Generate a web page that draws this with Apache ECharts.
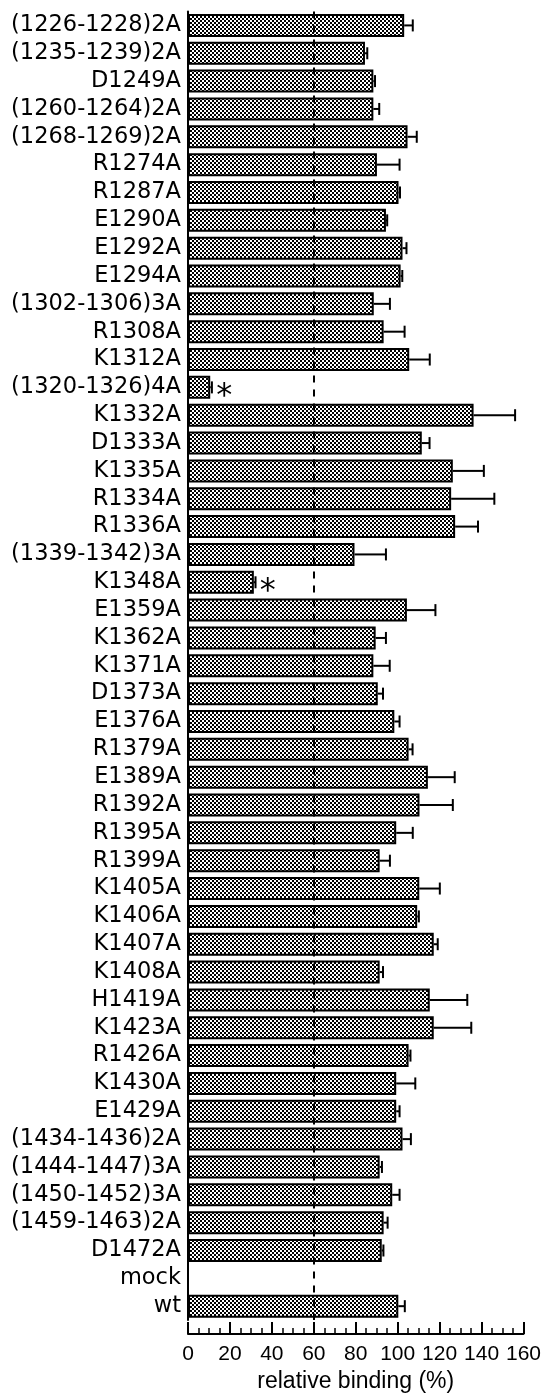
<!DOCTYPE html>
<html>
<head>
<meta charset="utf-8">
<script src="https://cdn.jsdelivr.net/npm/echarts@6/dist/echarts.min.js"></script>
<style>
html,body{margin:0;padding:0;background:#fff;}
#chart{width:544px;height:1398px;}
</style>
</head>
<body>
<div id="chart"></div>
<script>
const categories = ['(1226-1228)2A','(1235-1239)2A','D1249A','(1260-1264)2A','(1268-1269)2A','R1274A','R1287A','E1290A','E1292A','E1294A','(1302-1306)3A','R1308A','K1312A','(1320-1326)4A','K1332A','D1333A','K1335A','R1334A','R1336A','(1339-1342)3A','K1348A','E1359A','K1362A','K1371A','D1373A','E1376A','R1379A','E1389A','R1392A','R1395A','R1399A','K1405A','K1406A','K1407A','K1408A','H1419A','K1423A','R1426A','K1430A','E1429A','(1434-1436)2A','(1444-1447)3A','(1450-1452)3A','(1459-1463)2A','D1472A','mock','wt'];
const binding = [103.1,84.4,88.4,88.4,104.7,90.1,100.4,94.4,102.3,101.4,88.6,93.3,105.5,10.6,136.2,111.5,126.3,125.5,127.4,79.4,31.4,104.4,89.5,88.4,90.5,98.4,105.2,114.4,110.4,99.3,91.4,110.3,109.3,117.2,91.4,115.3,117.2,105.2,99.3,99.3,102.3,91.4,97.4,93.3,92.4,0,100.3];
const sem = [4.1,1.1,0.8,2.8,4.4,10.8,0.7,0.6,1.9,0.8,7.7,10.0,9.8,0.8,19.8,3.7,14.8,20.6,10.9,15.0,0.8,13.6,4.9,7.8,2.5,2.5,1.9,12.8,15.9,7.9,4.9,9.8,0.8,1.9,1.6,17.9,17.9,0.9,9.1,1.6,4.0,1.1,3.5,1.9,0.8,0,3.1];
const significance = ['','','','','','','','','','','','','','*','','','','','','','*','','','','','','','','','','','','','','','','','','','','','','','','','',''];
const referenceLine = 60;
const xMin = 0, xMax = 160, xStep = 20;

function checker() {
  const c = document.createElement('canvas');
  c.width = 4; c.height = 4;
  const g = c.getContext('2d');
  g.fillStyle = '#fff'; g.fillRect(0,0,4,4);
  g.fillStyle = '#000'; g.fillRect(0,0,2,2); g.fillRect(2,2,2,2);
  return c;
}

const chart = echarts.init(document.getElementById('chart'), null, {renderer:'canvas'});
const errData = binding.map((v,i)=>[v, v+sem[i], i]);

chart.setOption({
  animation:false,
  grid:{left:188, right:19, top:11.5, bottom:68},
  xAxis:{
    type:'value', min:xMin, max:xMax, interval:xStep, offset:14,
    name:'relative binding (%)', nameLocation:'middle', nameGap:34,
    nameTextStyle:{color:'#000', fontSize:23, fontFamily:'Liberation Sans'},
    axisLine:{show:true, lineStyle:{color:'#000', width:2}},
    axisTick:{show:true, inside:true, length:12, lineStyle:{color:'#000', width:2}},
    minorTick:{show:true, splitNumber:4, length:6, lineStyle:{color:'#000', width:1.5}},
    splitLine:{show:false},
    axisLabel:{color:'#000', fontSize:21, fontFamily:'Liberation Sans', margin:10}
  },
  yAxis:{
    type:'category', data:categories, inverse:true,
    axisLine:{show:true, lineStyle:{color:'#000', width:2}},
    axisTick:{show:false},
    axisLabel:{interval:0, color:'#000', fontSize:22.5, fontFamily:'DejaVu Sans', margin:7}
  },
  series:[
    {
      type:'bar', data:binding, barWidth:23,
      itemStyle:{color:{image:checker(), repeat:'repeat'}, borderColor:'#000', borderWidth:2},
      label:{show:true, position:'right', distance:7, offset:[-1,9],
        formatter:p=>significance[p.dataIndex], color:'#000', fontSize:32, fontFamily:'DejaVu Sans'},
      markLine:{silent:true, symbol:'none', label:{show:false},
        lineStyle:{color:'#000', type:[7,7], width:2},
        data:[{xAxis:referenceLine}], z:10},
      z:2
    },
    {
      type:'custom', data:errData, z:3,
      renderItem:function(params, api){
        const v = api.value(0), e = api.value(1), idx = api.value(2);
        if (e - v <= 0) return null;
        const p0 = api.coord([v, idx]);
        const p1 = api.coord([e, idx]);
        const h = 12;
        return {type:'group', children:[
          {type:'line', shape:{x1:p0[0], y1:p0[1], x2:p1[0], y2:p1[1]}, style:{stroke:'#000', lineWidth:2}},
          {type:'line', shape:{x1:p1[0], y1:p1[1]-h/2, x2:p1[0], y2:p1[1]+h/2}, style:{stroke:'#000', lineWidth:2}}
        ]};
      }
    }
  ]
});
</script>
</body>
</html>
